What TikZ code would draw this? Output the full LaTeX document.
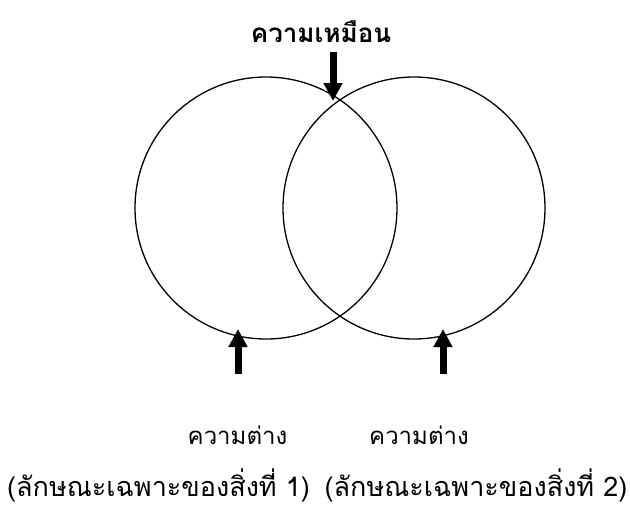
\documentclass[tikz,border=0pt]{standalone}
\usepackage{fontspec}
\newfontfamily\thaifont[Script=Thai]{Loma}
\usetikzlibrary{arrows.meta}

\tikzset{
  venn/.style={draw, line width=1.3pt, circle, minimum size=262pt, inner sep=0pt},
  bigarrow/.style={line width=7pt, -{Triangle[length=18pt, width=18pt]}},
  thaitext/.style={font=\thaifont\fontsize{24}{28}\selectfont, inner sep=0pt, anchor=base},
}

\begin{document}
\begin{tikzpicture}[x=1pt, y=-1pt]
\useasboundingbox (0,0) rectangle (630,507);
% Circles
\node[venn] (one) at (266,208) {};
\node[venn] (two) at (414,208) {};
% Similarity label and arrow
\node[thaitext, font=\thaifont\bfseries\fontsize{26}{30}\selectfont] (same) at (321,42) {ความเหมือน};
\coordinate (sametail) at (333,52);
\coordinate (sametip) at (333,101);
\draw[bigarrow] (sametail) -- (sametip);
% Difference labels
\node[thaitext] (diffa) at (237.5,444) {ความต่าง};
\node[thaitext] (diffb) at (419,444) {ความต่าง};
\node[thaitext, font=\thaifont\fontsize{27}{32}\selectfont] (owna) at (158.5,496) {(ลักษณะเฉพาะของสิ่งที่ 1)};
\node[thaitext, font=\thaifont\fontsize{27}{32}\selectfont] (ownb) at (476,496) {(ลักษณะเฉพาะของสิ่งที่ 2)};
% Arrows up to the circles
\foreach \x/\n in {238/a, 443/b} {
    \coordinate (tail\n) at (\x,374);
    \coordinate (tip\n) at (\x,329);
    \draw[bigarrow] (tail\n) -- (tip\n);
}
\end{tikzpicture}
\end{document}
